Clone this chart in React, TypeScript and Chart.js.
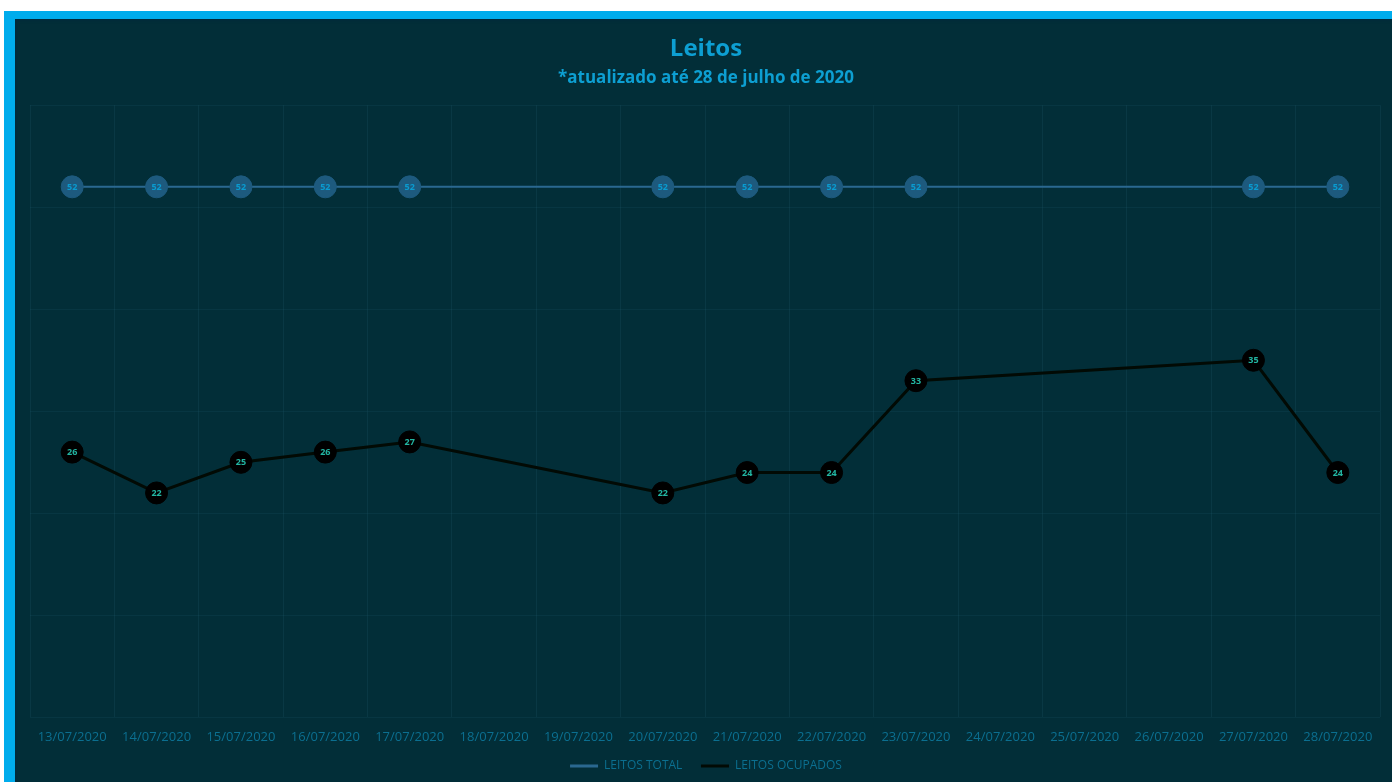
import React, { useEffect, useRef } from "react";
import { Chart, registerables } from "chart.js";

Chart.register(...registerables);

const categories = [
  "13/07/2020", "14/07/2020", "15/07/2020", "16/07/2020", "17/07/2020", "18/07/2020",
  "19/07/2020", "20/07/2020", "21/07/2020", "22/07/2020", "23/07/2020", "24/07/2020",
  "25/07/2020", "26/07/2020", "27/07/2020", "28/07/2020",
];
const leitosTotal = [52, 52, 52, 52, 52, null, null, 52, 52, 52, 52, null, null, null, 52, 52];
const leitosOcupados = [26, 22, 25, 26, 27, null, null, 22, 24, 24, 33, null, null, null, 35, 24];

const titleText = "Leitos";
const subtitleText = "*atualizado até 28 de julho de 2020";
const seriesNames = ["LEITOS TOTAL", "LEITOS OCUPADOS"];

const FONT = "'Open Sans', 'Noto Sans', sans-serif";

const pointLabelPlugin = {
  id: "pointLabels",
  afterDatasetsDraw(chart: any) {
    const ctx = chart.ctx;
    chart.data.datasets.forEach((ds: any, i: number) => {
      const meta = chart.getDatasetMeta(i);
      if (meta.hidden) return;
      meta.data.forEach((pt: any, j: number) => {
        const v = ds.data[j];
        if (v === null || v === undefined) return;
        ctx.save();
        ctx.font = `bold ${ds.labelSize}px ${FONT}`;
        ctx.fillStyle = ds.labelColor;
        ctx.textAlign = "center";
        ctx.textBaseline = "middle";
        ctx.fillText(String(v), pt.x, pt.y + 0.5);
        ctx.restore();
      });
    });
  },
};

function ChartView() {
  const ref = useRef<HTMLCanvasElement | null>(null);
  useEffect(() => {
    if (!ref.current) return;
    const chart = new Chart(ref.current, {
      type: "line",
      data: {
        labels: categories,
        datasets: [
          {
            label: seriesNames[0],
            data: leitosTotal,
            borderColor: "#2a6890",
            backgroundColor: "#1d5a7e",
            borderWidth: 2,
            pointRadius: 11,
            pointHoverRadius: 11,
            pointBackgroundColor: "#1d5a7e",
            pointBorderColor: "#1d5a7e",
            pointBorderWidth: 1,
            spanGaps: true,
            tension: 0,
            labelColor: "#0a9bd0",
            labelSize: 9,
          } as any,
          {
            label: seriesNames[1],
            data: leitosOcupados,
            borderColor: "#020a04",
            backgroundColor: "#000000",
            borderWidth: 3,
            pointRadius: 11,
            pointHoverRadius: 11,
            pointBackgroundColor: "#000000",
            pointBorderColor: "#000000",
            pointBorderWidth: 1,
            spanGaps: true,
            tension: 0,
            labelColor: "#22b5a2",
            labelSize: 9,
          } as any,
        ],
      },
      options: {
        animation: false,
        responsive: false,
        maintainAspectRatio: false,
        layout: { padding: { left: 15, right: 10, top: 0, bottom: 0 } },
        plugins: {
          title: {
            display: true,
            text: titleText,
            color: "#0d9fd2",
            font: { family: FONT, size: 24, weight: "bold" },
            padding: { top: 16, bottom: 4 },
          },
          subtitle: {
            display: true,
            text: subtitleText,
            color: "#0d9fd2",
            font: { family: FONT, size: 17, weight: "bold" },
            padding: { top: 0, bottom: 17 },
          },
          legend: {
            position: "bottom",
            labels: {
              color: "#0b6f90",
              font: { family: FONT, size: 12 },
              boxWidth: 28,
              boxHeight: 3,
              padding: 3,
              generateLabels: (c: any) =>
                c.data.datasets.map((ds: any, i: number) => ({
                  text: i === 0 ? ds.label + "     " : ds.label,
                  fillStyle: ds.borderColor,
                  strokeStyle: ds.borderColor,
                  lineWidth: 0,
                  hidden: false,
                  datasetIndex: i,
                  fontColor: "#0b6f90",
                })),
            },
          },
          tooltip: { enabled: false },
        },
        scales: {
          x: {
            offset: true,
            grid: {
              offset: true,
              color: "rgba(40,100,120,0.2)",
              drawTicks: false,
            },
            border: { display: false },
            ticks: {
              color: "#0b6f90",
              font: { family: FONT, size: 13 },
              padding: 12,
              maxRotation: 0,
              autoSkip: false,
            },
          },
          y: {
            min: 0,
            max: 60,
            ticks: { display: false, stepSize: 10 },
            grid: { color: "rgba(40,100,120,0.16)", drawTicks: false },
            border: { display: false },
          },
        },
      },
      plugins: [pointLabelPlugin],
    });
    return () => chart.destroy();
  }, []);
  return <canvas ref={ref} width={1377} height={763} style={{ display: "block" }} />;
}

export default function App() {
  return (
    <div
      style={{
        position: "fixed",
        left: 0,
        top: 0,
        width: 1392,
        height: 782,
        background: "#ffffff",
        overflow: "hidden",
      }}
    >
      <div
        style={{
          position: "absolute",
          left: 4,
          top: 11,
          width: 1388,
          height: 771,
          background: "#00acec",
        }}
      />
      <div
        style={{
          position: "absolute",
          left: 15,
          top: 19,
          width: 1377,
          height: 763,
          background: "#022e38",
          boxShadow: "inset 2px 2px 3px rgba(0,40,60,0.6)",
        }}
      >
        <ChartView />
      </div>
    </div>
  );
}
